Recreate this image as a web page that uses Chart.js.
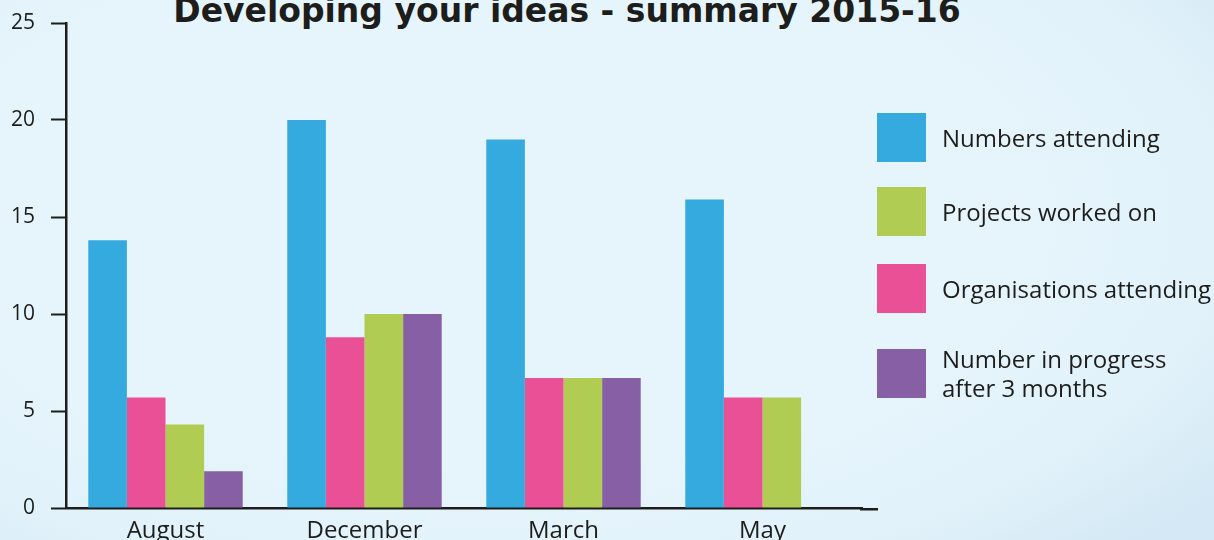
<!DOCTYPE html>
<html>
<head>
<meta charset="utf-8">
<script src="https://cdn.jsdelivr.net/npm/chart.js@4/dist/chart.umd.min.js"></script>
<style>
  html, body { margin: 0; padding: 0; }
  body {
    width: 1214px; height: 540px; overflow: hidden; position: relative;
    font-family: "Open Sans", Lato, sans-serif; color: #1d1d1b;
    background: radial-gradient(ellipse 75% 85% at 40% 40%, #e6f5fc 55%, #e2f2fa 80%, #d4e9f5 100%);
  }
  #chart { position: absolute; left: 0; top: 0; }
  #title {
    position: absolute; left: 0; top: -6px; width: 1134px; text-align: center;
    font-family: "DejaVu Sans", sans-serif;
    font-size: 33px; line-height: 33px; font-weight: 700; white-space: nowrap;
  }
  .key { position: absolute; left: 877px; display: flex; align-items: center; }
  .key span.sw { width: 49px; height: 49px; flex: none; }
  .key span.tx { margin-left: 16px; font-size: 24px; line-height: 29px; white-space: nowrap; }
</style>
</head>
<body>
<div id="title">Developing your ideas - summary 2015-16</div>
<canvas id="chart" width="1214" height="540"></canvas>
<div id="legend"></div>
<script>
const months = ['August', 'December', 'March', 'May'];
const yTicks = [0, 5, 10, 15, 20, 25];

const attending = [13.8, 20, 19, 15.9];
const organisations = [5.7, 8.8, 6.7, 5.7];
const projects = [4.3, 10, 6.7, 5.7];
const inProgress = [1.9, 10, 6.7, null];

const seriesNames = ['Numbers attending', 'Organisations attending', 'Projects worked on', 'Number in progress after 3 months'];
const seriesColors = ['#34aadf', '#e95096', '#b0cc53', '#875fa5'];

// legend lists the series in a different order from the bars
const legendOrder = [0, 2, 1, 3];
const legendTops = [113, 187, 264, 344];

const ink = '#1d1d1b';
const font = '"Open Sans"';

// x axis rule runs a little past the last group
const axisTail = {
  id: 'axisTail',
  afterDraw(chart) {
    const { ctx, chartArea } = chart;
    ctx.save();
    ctx.strokeStyle = ink;
    ctx.lineWidth = 2.5;
    ctx.beginPath();
    ctx.moveTo(chartArea.right - 2, chartArea.bottom + 1.25);
    ctx.lineTo(chartArea.right + 16, chartArea.bottom + 1.25);
    ctx.stroke();
    ctx.restore();
  }
};

const values = [attending, organisations, projects, inProgress];

new Chart(document.getElementById('chart'), {
  type: 'bar',
  data: {
    labels: months,
    datasets: values.map((v, i) => ({
      label: seriesNames[i],
      data: v,
      backgroundColor: seriesColors[i],
      borderWidth: 0,
      categoryPercentage: 0.776,
      barPercentage: 1
    }))
  },
  options: {
    responsive: false,
    animation: false,
    devicePixelRatio: 1,
    layout: { padding: { top: 23, right: 352, left: 0, bottom: 0 } },
    plugins: { legend: { display: false }, tooltip: { enabled: false } },
    scales: {
      x: {
        grid: { display: false },
        border: { display: true, color: ink, width: 2.5 },
        ticks: { color: ink, padding: 1, font: { family: font, size: 24 } },
        afterFit: s => { s.height = 32; }
      },
      y: {
        min: 0,
        max: 25,
        afterBuildTicks: s => { s.ticks = yTicks.map(v => ({ value: v })); },
        grid: { drawOnChartArea: false, tickLength: 15, tickWidth: 2, tickColor: ink },
        border: { display: true, color: ink, width: 2.5 },
        ticks: { color: ink, padding: 16, font: { family: font, size: 21 } },
        // the top label may hang above the plot, so drop the label overhang
        afterFit: s => { s.width = 66; s.paddingTop = 0; s.paddingBottom = 0; }
      }
    }
  },
  plugins: [axisTail]
});

const legend = document.getElementById('legend');
legendOrder.forEach((idx, row) => {
  const key = document.createElement('div');
  key.className = 'key';
  key.style.top = legendTops[row] + 'px';
  const sw = document.createElement('span');
  sw.className = 'sw';
  sw.style.background = seriesColors[idx];
  const tx = document.createElement('span');
  tx.className = 'tx';
  tx.innerHTML = idx === 3 ? 'Number in progress<br>after 3 months' : seriesNames[idx];
  key.appendChild(sw);
  key.appendChild(tx);
  legend.appendChild(key);
});
</script>
</body>
</html>
